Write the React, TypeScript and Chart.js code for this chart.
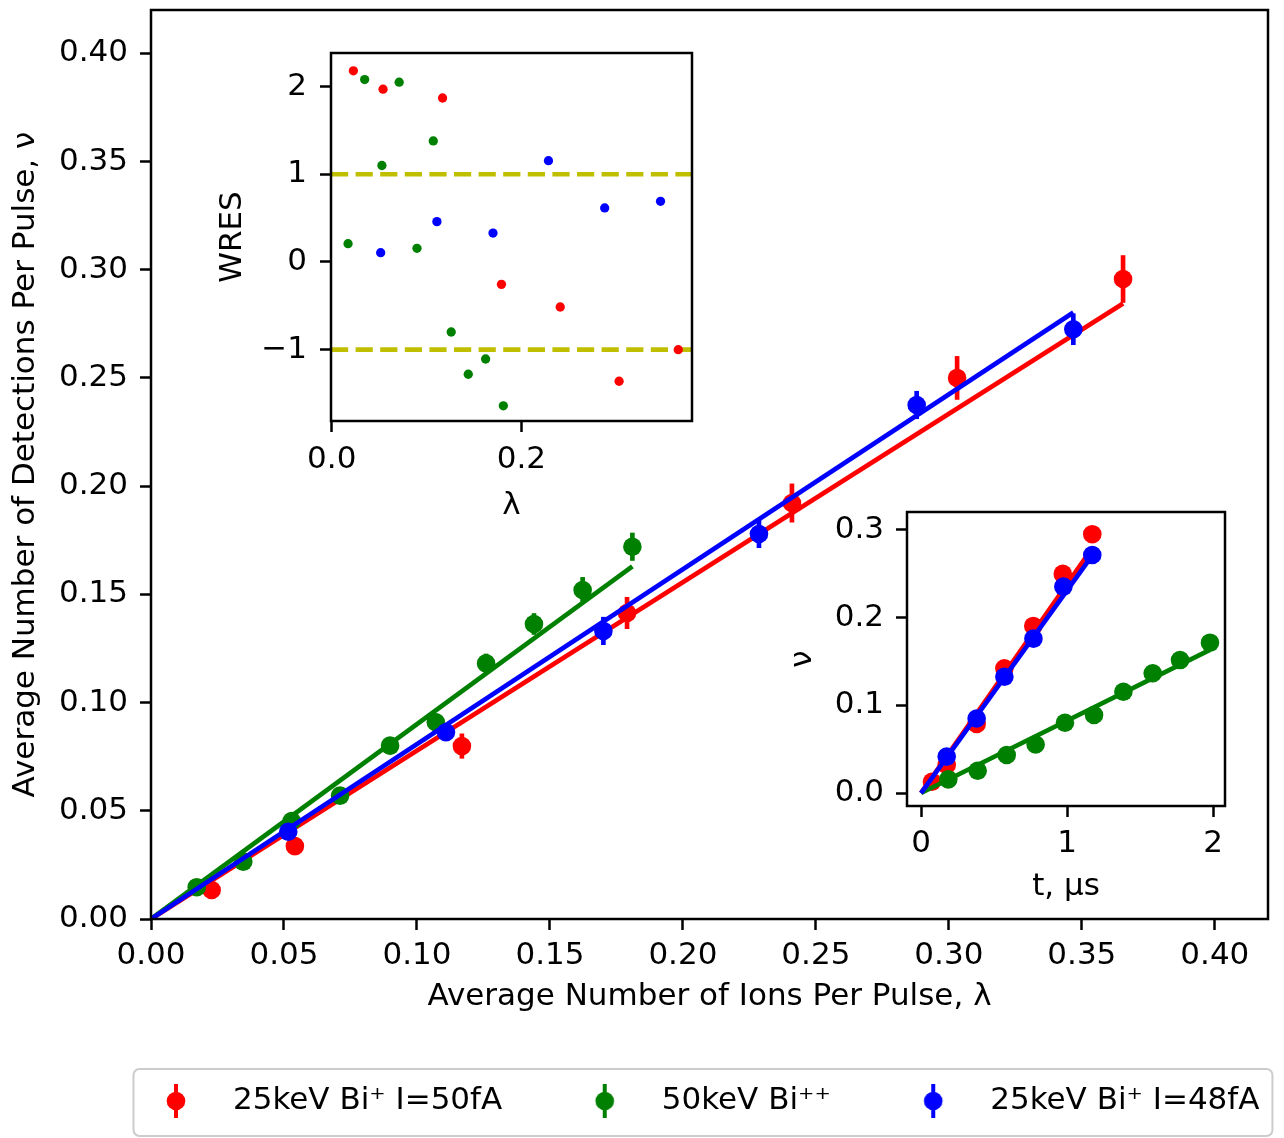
import React, { useEffect, useRef } from 'react';
import { Chart, registerables } from 'chart.js';

Chart.register(...registerables);

// ---------- data ----------
// Main plot: average number of ions per pulse (λ) vs detections per pulse (ν)
const LAMBDA_RED = [0.0228, 0.0541, 0.1169, 0.179, 0.241, 0.3031, 0.3655];
const NU_RED = [0.0134, 0.0337, 0.0799, 0.1414, 0.1922, 0.25, 0.2957];
const ERR_RED = [0.0035, 0.0042, 0.0058, 0.0074, 0.009, 0.0101, 0.011];

const LAMBDA_GREEN = [0.0172, 0.0347, 0.0529, 0.0711, 0.0899, 0.1071, 0.126, 0.144, 0.1623, 0.181];
const NU_GREEN = [0.0147, 0.0265, 0.0453, 0.057, 0.0801, 0.0909, 0.1181, 0.1363, 0.152, 0.172];
const ERR_GREEN = [0.002, 0.0025, 0.003, 0.0035, 0.004, 0.004, 0.0045, 0.005, 0.006, 0.0065];

const LAMBDA_BLUE = [0.0516, 0.1109, 0.1701, 0.2286, 0.2879, 0.3468];
const NU_BLUE = [0.0403, 0.0863, 0.1331, 0.1779, 0.2375, 0.2725];
const ERR_BLUE = [0.003, 0.004, 0.0065, 0.0065, 0.0065, 0.0073];

const FIT_SLOPE_RED = 0.778;
const FIT_SLOPE_GREEN = 0.9;
const FIT_SLOPE_BLUE = 0.808;

const LABEL_RED = '25keV Bi\u207A I=50fA';
const LABEL_GREEN = '50keV Bi\u207A\u207A';
const LABEL_BLUE = '25keV Bi\u207A I=48fA';

// Inset 1: weighted residuals vs λ
const WRES_RED = [2.18, 1.97, 1.87, -0.255, -0.513, -1.36, -1.0];
const WRES_GREEN = [0.209, 2.08, 1.1, 2.05, 0.156, 1.38, -0.798, -1.28, -1.106, -1.64];
const WRES_BLUE = [0.106, 0.46, 0.33, 1.155, 0.616, 0.692];
const WRES_LIMITS = [1, -1];

// Inset 2: ν vs t (µs)
const T_RED = [0.075, 0.176, 0.381, 0.571, 0.769, 0.971, 1.173];
const V_RED = [0.0129, 0.0319, 0.0787, 0.1422, 0.1905, 0.2498, 0.2951];
const T_GREEN = [0.187, 0.388, 0.587, 0.785, 0.986, 1.185, 1.386, 1.587, 1.774, 1.979];
const V_GREEN = [0.0156, 0.0254, 0.0433, 0.0553, 0.0801, 0.0889, 0.1155, 0.1365, 0.1516, 0.1714];
const T_BLUE = [0.176, 0.381, 0.571, 0.77, 0.975, 1.173];
const V_BLUE = [0.0415, 0.085, 0.1326, 0.176, 0.2353, 0.2714];
const T_SLOPE_RED = 0.238;
const T_SLOPE_GREEN = 0.0825;
const T_SLOPE_BLUE = 0.231;

// axis ranges and ticks
const MAIN_X_RANGE = [0, 0.42];
const MAIN_Y_RANGE = [0, 0.42];
const MAIN_TICKS = [0, 0.05, 0.1, 0.15, 0.2, 0.25, 0.3, 0.35, 0.4];
const WRES_X_RANGE = [-0.0008, 0.38];
const WRES_Y_RANGE = [-1.813, 2.383];
const WRES_X_TICKS = [0, 0.2];
const WRES_Y_TICKS = [-1, 0, 1, 2];
const TIME_X_RANGE = [-0.096, 2.082];
const TIME_Y_RANGE = [-0.0148, 0.3204];
const TIME_X_TICKS = [0, 1, 2];
const TIME_Y_TICKS = [0, 0.1, 0.2, 0.3];

// ---------- styling ----------
const FAMILY = "'DejaVu Sans', sans-serif";
const FS = 31;
const TEXT = '#000000';
const RED = '#ff0000';
const GREEN = '#008000';
const BLUE = '#0000ff';
const YELLOW = '#bfbf00';
const LW = 4.65;
const MARKER_R = 9.3;
const SMALL_R = 4.65;
const SPINE_W = 2.5;

const pts = (xs: number[], ys: number[]) => xs.map((x, i) => ({ x, y: ys[i] }));
const fitLine = (slope: number, x1: number) => [0, x1].map((x) => ({ x, y: slope * x }));
const hline = (y: number, range: number[]) => range.map((x) => ({ x, y }));

const font = () => ({ family: FAMILY, size: FS });

function linAxis(o: any) {
  return {
    type: 'linear',
    min: o.range[0],
    max: o.range[1],
    afterBuildTicks: (ax: any) => {
      ax.ticks = o.ticks.map((v: number) => ({ value: v }));
    },
    afterFit: (ax: any) => {
      if (ax.isHorizontal()) ax.height = o.size;
      else ax.width = o.size;
      ax.paddingTop = 0;
      ax.paddingBottom = 0;
      ax.paddingLeft = 0;
      ax.paddingRight = 0;
    },
    ticks: {
      callback: (v: any) => o.fmt(Number(v)),
      padding: o.tickPad,
      font: font(),
      color: TEXT,
      autoSkip: false,
      maxRotation: 0,
      minRotation: 0,
    },
    grid: {
      display: true,
      drawOnChartArea: false,
      drawTicks: true,
      tickLength: 11,
      tickWidth: SPINE_W,
      tickColor: '#000',
    },
    border: { display: false },
    title: {
      display: true,
      text: o.title,
      font: font(),
      color: TEXT,
      padding: o.titlePad,
    },
  };
}

function scatterSet(label: string, data: any[], color: string, order: number, r: number, err?: number[]) {
  return {
    type: 'scatter',
    label,
    data,
    yErr: err,
    inLegend: !!err,
    showLine: false,
    pointRadius: r,
    pointHoverRadius: r,
    pointBackgroundColor: color,
    pointBorderWidth: 0,
    borderColor: color,
    backgroundColor: color,
    order,
  };
}

function lineSet(label: string, data: any[], color: string, order: number, dash?: number[]) {
  return {
    type: 'scatter',
    label,
    data,
    showLine: true,
    pointRadius: 0,
    pointHoverRadius: 0,
    borderColor: color,
    backgroundColor: color,
    borderWidth: LW,
    borderDash: dash || [],
    fill: false,
    tension: 0,
    order,
  };
}

// ---------- plugins ----------
const errorBarPlugin = {
  id: 'errorBars',
  beforeDatasetDraw(chart: any, args: any) {
    const ds = chart.data.datasets[args.index];
    if (!ds.yErr) return;
    const { ctx, chartArea } = chart;
    const xs = chart.scales.x;
    const ys = chart.scales.y;
    ctx.save();
    ctx.beginPath();
    ctx.rect(chartArea.left, chartArea.top, chartArea.width, chartArea.height);
    ctx.clip();
    ctx.strokeStyle = ds.pointBackgroundColor;
    ctx.lineWidth = LW;
    ctx.lineCap = 'butt';
    ds.data.forEach((p: any, i: number) => {
      const px = xs.getPixelForValue(p.x);
      ctx.beginPath();
      ctx.moveTo(px, ys.getPixelForValue(p.y - ds.yErr[i]));
      ctx.lineTo(px, ys.getPixelForValue(p.y + ds.yErr[i]));
      ctx.stroke();
    });
    ctx.restore();
  },
};

const framePlugin = {
  id: 'axesFrame',
  beforeDraw(chart: any) {
    const { ctx, chartArea: a } = chart;
    ctx.save();
    ctx.fillStyle = '#ffffff';
    ctx.fillRect(a.left, a.top, a.right - a.left, a.bottom - a.top);
    ctx.restore();
  },
  afterDatasetsDraw(chart: any) {
    const { ctx, chartArea: a } = chart;
    ctx.save();
    ctx.strokeStyle = '#000';
    ctx.lineWidth = SPINE_W;
    ctx.strokeRect(a.left, a.top, a.right - a.left, a.bottom - a.top);
    ctx.restore();
  },
};

const LEGEND_FIRST_MARKER_X = 176;
const LEGEND_BOX_W = 83;
const LEGEND_PAD = 61;

const legendPlacePlugin = {
  id: 'legendPlace',
  afterLayout(chart: any) {
    const lg = chart.legend;
    if (!lg || !lg.lineWidths) return;
    const start = (lg.left + LEGEND_PAD + lg.right - lg.lineWidths[0]) / 2;
    const d = LEGEND_FIRST_MARKER_X - (start + LEGEND_BOX_W / 2);
    lg.left += d;
    lg.right += d;
  },
  beforeDraw(chart: any) {
    const lg = chart.legend;
    if (!lg || !lg.legendHitBoxes || !lg.legendHitBoxes.length) return;
    const hb = lg.legendHitBoxes;
    const first = hb[0];
    const last = hb[hb.length - 1];
    const cy = first.top + first.height / 2;
    const x0 = first.left - 1;
    const x1 = last.left + last.width + 13;
    const y0 = cy - 32;
    const y1 = cy + 35;
    const { ctx } = chart;
    ctx.save();
    ctx.fillStyle = 'rgba(255,255,255,0.8)';
    ctx.strokeStyle = '#cccccc';
    ctx.lineWidth = 2;
    ctx.beginPath();
    if (ctx.roundRect) ctx.roundRect(x0, y0, x1 - x0, y1 - y0, 6);
    else ctx.rect(x0, y0, x1 - x0, y1 - y0);
    ctx.fill();
    ctx.stroke();
    ctx.restore();
  },
};

function legendMarker(color: string) {
  const c = document.createElement('canvas');
  c.width = 24;
  c.height = 34;
  const g = c.getContext('2d')!;
  g.strokeStyle = color;
  g.lineWidth = 4;
  g.beginPath();
  g.moveTo(12, 0);
  g.lineTo(12, 34);
  g.stroke();
  g.fillStyle = color;
  g.beginPath();
  g.arc(12, 17, MARKER_R, 0, Math.PI * 2);
  g.fill();
  return c;
}

const baseOptions = (padding: any) => ({
  responsive: false,
  maintainAspectRatio: false,
  animation: false,
  devicePixelRatio: 1,
  events: [],
  layout: { padding },
});

// ---------- configs ----------
function mainConfig(): any {
  const datasets = [
    scatterSet(LABEL_RED, pts(LAMBDA_RED, NU_RED), RED, 6, MARKER_R, ERR_RED),
    lineSet('fit red', fitLine(FIT_SLOPE_RED, LAMBDA_RED[LAMBDA_RED.length - 1]), RED, 5),
    scatterSet(LABEL_GREEN, pts(LAMBDA_GREEN, NU_GREEN), GREEN, 4, MARKER_R, ERR_GREEN),
    lineSet('fit green', fitLine(FIT_SLOPE_GREEN, LAMBDA_GREEN[LAMBDA_GREEN.length - 1]), GREEN, 3),
    scatterSet(LABEL_BLUE, pts(LAMBDA_BLUE, NU_BLUE), BLUE, 2, MARKER_R, ERR_BLUE),
    lineSet('fit blue', fitLine(FIT_SLOPE_BLUE, LAMBDA_BLUE[LAMBDA_BLUE.length - 1]), BLUE, 1),
  ];
  const markers: any = {};
  datasets.forEach((d: any, i) => {
    if (d.inLegend) markers[i] = legendMarker(d.pointBackgroundColor);
  });
  return {
    type: 'scatter',
    data: { datasets },
    options: {
      ...baseOptions({ top: 10, right: 16, bottom: 11.5, left: 0 }),
      scales: {
        x: linAxis({
          range: MAIN_X_RANGE,
          ticks: MAIN_TICKS,
          fmt: (v: number) => v.toFixed(2),
          title: 'Average Number of Ions Per Pulse, \u03BB',
          tickPad: 7,
          titlePad: { top: 0, bottom: 9 },
          size: 105.5,
        }),
        y: linAxis({
          range: MAIN_Y_RANGE,
          ticks: MAIN_TICKS,
          fmt: (v: number) => v.toFixed(2),
          title: 'Average Number of Detections Per Pulse, \u03BD',
          tickPad: 12,
          titlePad: { top: 7.7, bottom: 0 },
          size: 151,
        }),
      },
      plugins: {
        tooltip: { enabled: false },
        legend: {
          display: true,
          position: 'bottom',
          align: 'center',
          labels: {
            usePointStyle: true,
            pointStyleWidth: LEGEND_BOX_W,
            padding: LEGEND_PAD,
            font: font(),
            color: TEXT,
            generateLabels: (chart: any) =>
              (Chart.defaults as any).plugins.legend.labels
                .generateLabels(chart)
                .map((item: any) => ({ ...item, pointStyle: markers[item.datasetIndex] || item.pointStyle })),
            filter: (item: any, data: any) => !!data.datasets[item.datasetIndex].inLegend,
            sort: (a: any, b: any) => a.datasetIndex - b.datasetIndex,
          },
        },
      },
    },
    plugins: [errorBarPlugin, framePlugin, legendPlacePlugin],
  };
}

function wresConfig(): any {
  return {
    type: 'scatter',
    data: {
      datasets: [
        scatterSet('WRES ' + LABEL_RED, pts(LAMBDA_RED, WRES_RED), RED, 3, SMALL_R),
        scatterSet('WRES ' + LABEL_GREEN, pts(LAMBDA_GREEN, WRES_GREEN), GREEN, 2, SMALL_R),
        scatterSet('WRES ' + LABEL_BLUE, pts(LAMBDA_BLUE, WRES_BLUE), BLUE, 1, SMALL_R),
        ...WRES_LIMITS.map((y, i) => lineSet('WRES = ' + y, hline(y, WRES_X_RANGE), YELLOW, 10 + i, [17.2, 7.4])),
      ],
    },
    options: {
      ...baseOptions({ top: 13, right: 8, bottom: 0, left: 0 }),
      scales: {
        x: linAxis({
          range: WRES_X_RANGE,
          ticks: WRES_X_TICKS,
          fmt: (v: number) => v.toFixed(1),
          title: '\u03BB',
          tickPad: 9,
          titlePad: { top: 0, bottom: 3 },
          size: 107,
        }),
        y: linAxis({
          range: WRES_Y_RANGE,
          ticks: WRES_Y_TICKS,
          fmt: (v: number) => (v < 0 ? '\u2212' + Math.abs(v) : String(v)),
          title: 'WRES',
          tickPad: 13,
          titlePad: { top: 14, bottom: 0 },
          size: 131,
        }),
      },
      plugins: { tooltip: { enabled: false }, legend: { display: false } },
    },
    plugins: [framePlugin],
  };
}

function timeConfig(): any {
  return {
    type: 'scatter',
    data: {
      datasets: [
        scatterSet(LABEL_RED, pts(T_RED, V_RED), RED, 6, MARKER_R),
        lineSet('fit red', fitLine(T_SLOPE_RED, T_RED[T_RED.length - 1]), RED, 5),
        scatterSet(LABEL_GREEN, pts(T_GREEN, V_GREEN), GREEN, 4, MARKER_R),
        lineSet('fit green', fitLine(T_SLOPE_GREEN, T_GREEN[T_GREEN.length - 1]), GREEN, 3),
        scatterSet(LABEL_BLUE, pts(T_BLUE, V_BLUE), BLUE, 2, MARKER_R),
        lineSet('fit blue', fitLine(T_SLOPE_BLUE, T_BLUE[T_BLUE.length - 1]), BLUE, 1),
      ],
    },
    options: {
      ...baseOptions({ top: 12, right: 15, bottom: 0, left: 0 }),
      scales: {
        x: linAxis({
          range: TIME_X_RANGE,
          ticks: TIME_X_TICKS,
          fmt: (v: number) => String(v),
          title: 't, \u03BCs',
          tickPad: 8,
          titlePad: { top: 0, bottom: 4 },
          size: 104,
        }),
        y: linAxis({
          range: TIME_Y_RANGE,
          ticks: TIME_Y_TICKS,
          fmt: (v: number) => v.toFixed(1),
          title: '\u03BD',
          tickPad: 12,
          titlePad: { top: 4.7, bottom: 0 },
          size: 127,
        }),
      },
      plugins: { tooltip: { enabled: false }, legend: { display: false } },
    },
    plugins: [errorBarPlugin, framePlugin],
  };
}

const abs = (left: number, top: number, width: number, height: number): any => ({
  position: 'absolute',
  left,
  top,
  width,
  height,
  display: 'block',
});

export default function App() {
  const mainRef = useRef<HTMLCanvasElement>(null);
  const wresRef = useRef<HTMLCanvasElement>(null);
  const timeRef = useRef<HTMLCanvasElement>(null);

  useEffect(() => {
    const charts = [
      new Chart(mainRef.current as any, mainConfig()),
      new Chart(wresRef.current as any, wresConfig()),
      new Chart(timeRef.current as any, timeConfig()),
    ];
    return () => charts.forEach((c) => c.destroy());
  }, []);

  return (
    <div style={{ position: 'absolute', left: 0, top: 0, width: 1284, height: 1138, overflow: 'hidden', background: '#ffffff' }}>
      <canvas ref={mainRef} width={1284} height={1138} style={abs(0, 0, 1284, 1138)} />
      <canvas ref={wresRef} width={500} height={488} style={abs(200, 40, 500, 488)} />
      <canvas ref={timeRef} width={460} height={410} style={abs(780, 500, 460, 410)} />
    </div>
  );
}
